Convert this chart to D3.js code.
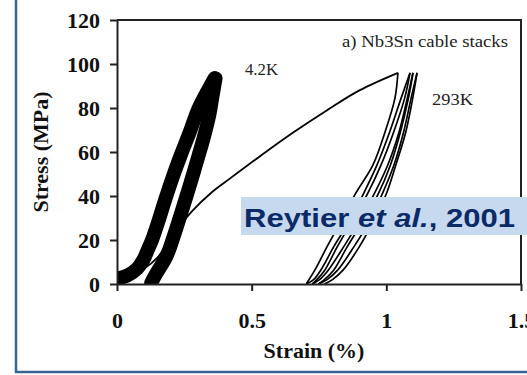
<!DOCTYPE html>
<html lang="en">
<head>
<meta charset="UTF-8">
<title>Nb3Sn cable stacks</title>
<script src="https://d3js.org/d3.v7.min.js"></script>
<style>
  body { margin: 0; background: #fff; }
  svg { display: block; }
</style>
</head>
<body>
<div id="chart"></div>
<script>
// Values: [strain %, stress MPa]
var yTicks = [0, 20, 40, 60, 80, 100, 120];
var xTicks = [0, 0.5, 1, 1.5];

// 4.2K: many cycles, they merge into two thick bands
var band42Left = [[0.005,2.5],[0.04,4],[0.075,7],[0.098,11],[0.116,16],[0.13,20],[0.155,29],[0.178,38],
                  [0.208,49],[0.238,59],[0.27,69],[0.30,79],[0.333,87],[0.362,93.5]];
var band42Right = [[0.127,0.5],[0.142,4],[0.162,8],[0.177,11],[0.192,15],[0.206,20],[0.23,29],[0.253,38],
                   [0.278,48],[0.302,58],[0.323,67],[0.343,77],[0.354,85],[0.366,93.5]];

// 293K: first loading then unload / reload loops
var load293 = [[0,1.5],[0.05,4],[0.1,7],[0.15,12],[0.2,21],[0.278,33],[0.35,41.5],[0.42,48],
               [0.53,58],[0.65,68.5],[0.78,79],[0.9,88],[1.043,96]];
var unload1 = [[1.043,96],[1.032,84.5],[0.995,69],[0.95,54],[0.885,41],[0.83,28],[0.78,17],[0.735,6.4],[0.713,2],[0.703,0]];
var reload1 = [[0.703,0],[0.73,2],[0.757,6.4],[0.805,17],[0.86,28],[0.915,41],[0.965,54],[1.012,69],[1.055,84.5],[1.088,96]];
var unload2 = [[1.088,96],[1.068,84.5],[1.027,69],[0.98,54],[0.93,41],[0.87,28],[0.818,17],[0.772,6.4],[0.742,2],[0.725,0]];
var reload2 = [[0.725,0],[0.752,2],[0.785,6.4],[0.842,17],[0.897,28],[0.955,41],[1.005,54],[1.047,69],[1.078,84.5],[1.099,96]];
var unload3 = [[1.099,96],[1.082,84.5],[1.052,69],[1.015,54],[0.97,41],[0.91,28],[0.855,17],[0.805,6.4],[0.77,2],[0.748,0]];
var reload3 = [[0.748,0],[0.78,2],[0.82,6.4],[0.88,17],[0.935,28],[0.985,41],[1.028,54],[1.064,69],[1.092,84.5],[1.114,96]];
var unload4 = [[1.114,96],[1.098,84.5],[1.072,69],[1.035,54],[1.0,41],[0.95,28],[0.9,17],[0.84,6.4],[0.8,2],[0.77,0]];
var loops293 = [unload1, reload1, unload2, reload2, unload3, reload3, unload4];

var width = 527, height = 375;
var plotLeft = 117, plotRight = 521, plotTop = 20, plotBottom = 284;

var svg = d3.select("#chart").append("svg")
    .attr("width", width)
    .attr("height", height);

// blue slide frame
svg.append("path")
    .attr("d", "M16,0 V372 H" + width)
    .attr("fill", "none")
    .attr("stroke", "#3a6395")
    .attr("stroke-width", 2.5);

var x = d3.scaleLinear().domain([0, 1.5]).range([plotLeft, plotRight]);
var y = d3.scaleLinear().domain([0, 120]).range([plotBottom, plotTop]);

svg.append("clipPath").attr("id", "plotClip")
  .append("rect")
    .attr("x", plotLeft).attr("y", plotTop)
    .attr("width", plotRight - plotLeft).attr("height", plotBottom - plotTop);

var line = d3.line()
    .x(function(d){ return x(d[0]); })
    .y(function(d){ return y(d[1]); })
    .curve(d3.curveCatmullRom.alpha(0.5));

var plot = svg.append("g").attr("clip-path", "url(#plotClip)");

// 4.2K bands
[band42Left, band42Right].forEach(function(b){
    plot.append("path")
        .attr("d", line(b))
        .attr("fill", "none")
        .attr("stroke", "#000")
        .attr("stroke-width", 14)
        .attr("stroke-linecap", "round")
        .attr("stroke-linejoin", "round");
});

// 293K first loading
plot.append("path")
    .attr("d", line(load293))
    .attr("fill", "none")
    .attr("stroke", "#000")
    .attr("stroke-width", 1.8);

// 293K loops
plot.selectAll(".loop")
    .data(loops293)
    .enter().append("path")
    .attr("class", "loop")
    .attr("d", function(d){ return line(d); })
    .attr("fill", "none")
    .attr("stroke", "#000")
    .attr("stroke-width", 1.7);

// box top and right
svg.append("path")
    .attr("d", "M" + plotLeft + "," + plotTop + " H" + plotRight + " V" + plotBottom)
    .attr("fill", "none")
    .attr("stroke", "#222")
    .attr("stroke-width", 2);

// axes
var yAxis = d3.axisLeft(y).tickValues(yTicks).tickSize(7).tickSizeOuter(0).tickPadding(10);
var xAxis = d3.axisBottom(x).tickValues(xTicks).tickSize(7).tickSizeOuter(0).tickPadding(21)
    .tickFormat(function(d){ return String(d); });

var gy = svg.append("g").attr("transform", "translate(" + plotLeft + ",0)").call(yAxis);
var gx = svg.append("g").attr("transform", "translate(0," + plotBottom + ")").call(xAxis);

[gx, gy].forEach(function(g){
    g.selectAll("path, line").attr("stroke", "#222").attr("stroke-width", 2);
    g.selectAll("text")
        .attr("fill", "#111")
        .attr("font-family", "'Liberation Serif', 'Times New Roman', serif")
        .attr("font-weight", "bold")
        .attr("font-size", "22px");
});

// axis titles
svg.append("text")
    .attr("x", 314).attr("y", 358)
    .attr("text-anchor", "middle")
    .attr("font-family", "'Liberation Serif', 'Times New Roman', serif")
    .attr("font-weight", "bold")
    .attr("font-size", "22px")
    .attr("fill", "#111")
    .text("Strain (%)");

svg.append("text")
    .attr("transform", "translate(48,152) rotate(-90)")
    .attr("text-anchor", "middle")
    .attr("font-family", "'Liberation Serif', 'Times New Roman', serif")
    .attr("font-weight", "bold")
    .attr("font-size", "22px")
    .attr("fill", "#111")
    .text("Stress (MPa)");

// annotations
function note(tx, ty, str, size, len) {
    var t = svg.append("text")
        .attr("x", tx).attr("y", ty)
        .attr("font-family", "'Liberation Serif', 'Times New Roman', serif")
        .attr("font-size", size + "px")
        .attr("fill", "#222")
        .text(str);
    if (len) t.attr("textLength", len).attr("lengthAdjust", "spacingAndGlyphs");
}
note(342, 47, "a) Nb3Sn cable stacks", 16, 166);
note(245, 75, "4.2K", 16, 33);
note(432, 105, "293K", 17, 41);

// citation label
svg.append("rect")
    .attr("x", 241).attr("y", 197)
    .attr("width", width - 241).attr("height", 38)
    .attr("fill", "#c6d9ef");

var cite = svg.append("text")
    .attr("x", 244).attr("y", 227)
    .attr("font-family", "Arial, 'Liberation Sans', sans-serif")
    .attr("font-weight", "bold")
    .attr("font-size", "26px")
    .attr("fill", "#0b2a66")
    .attr("textLength", 271)
    .attr("lengthAdjust", "spacingAndGlyphs");
cite.append("tspan").text("Reytier ");
cite.append("tspan").attr("font-style", "italic").text("et al.");
cite.append("tspan").text(", 2001");
</script>
</body>
</html>
